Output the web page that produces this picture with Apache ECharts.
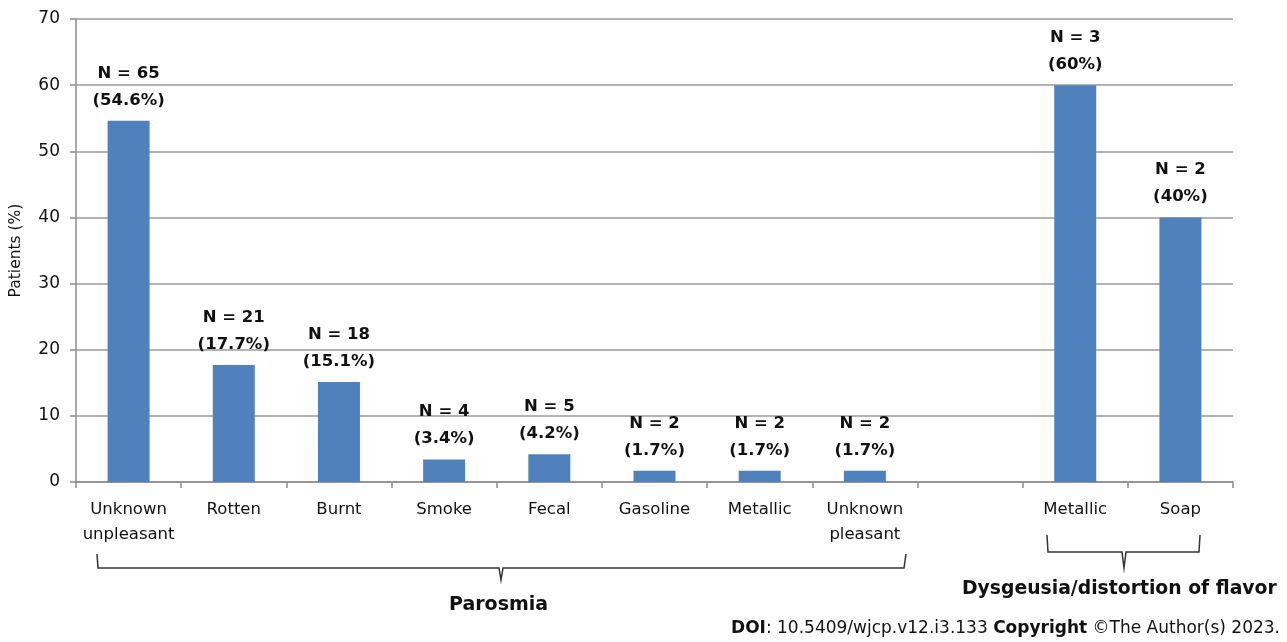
<!DOCTYPE html>
<html>
<head>
<meta charset="utf-8">
<script src="https://cdn.jsdelivr.net/npm/echarts@6/dist/echarts.min.js"></script>
<style>
  html, body { margin: 0; padding: 0; background: #fff; }
  #main { width: 1287px; height: 642px; }
</style>
</head>
<body>
<div id="main"></div>
<script>
// data
var categories = ['Unknown\nunpleasant', 'Rotten', 'Burnt', 'Smoke', 'Fecal', 'Gasoline', 'Metallic', 'Unknown\npleasant', '', 'Metallic', 'Soap'];
var values = [54.6, 17.7, 15.1, 3.4, 4.2, 1.7, 1.7, 1.7, null, 60, 40];
var counts = [65, 21, 18, 4, 5, 2, 2, 2, null, 3, 2];
var pctText = ['54.6', '17.7', '15.1', '3.4', '4.2', '1.7', '1.7', '1.7', '', '60', '40'];
var yTicks = [0, 10, 20, 30, 40, 50, 60, 70];

var font = 'DejaVu Sans';
var chart = echarts.init(document.getElementById('main'));

var option = {
  animation: false,
  textStyle: { fontFamily: font },
  grid: { left: 76, right: 54, top: 19, bottom: 160 },
  xAxis: {
    type: 'category',
    data: categories,
    axisLine: { lineStyle: { color: '#8c8c8c', width: 1.5 } },
    axisTick: { show: true, length: 6, lineStyle: { color: '#8c8c8c', width: 1.5 } },
    axisLabel: { color: '#111', fontSize: 16.5, lineHeight: 25, margin: 15, interval: 0 }
  },
  yAxis: {
    type: 'value',
    min: yTicks[0],
    max: yTicks[yTicks.length - 1],
    interval: 10,
    name: 'Patients (%)',
    nameLocation: 'middle',
    nameGap: 52,
    nameRotate: 90,
    nameTextStyle: { color: '#111', fontSize: 15.5 },
    axisLine: { show: true, lineStyle: { color: '#8c8c8c', width: 1.5 } },
    axisTick: { show: true, length: 6, lineStyle: { color: '#8c8c8c', width: 1.5 } },
    axisLabel: { color: '#111', fontSize: 17, margin: 16 },
    splitLine: { lineStyle: { color: '#9a9a9a', width: 1.5 } }
  },
  series: [{
    type: 'bar',
    data: values,
    barWidth: 42,
    itemStyle: { color: '#4f81bd' },
    label: {
      show: true,
      position: 'top',
      distance: 7,
      color: '#111',
      fontWeight: 'bold',
      fontSize: 16.5,
      lineHeight: 27,
      formatter: function (p) {
        return 'N = ' + counts[p.dataIndex] + '\n(' + pctText[p.dataIndex] + '%)';
      }
    }
  }],
  graphic: [
    // Parosmia bracket
    {
      type: 'polyline',
      shape: { points: [[97, 554], [98, 568], [499, 568], [501, 580], [503, 568], [904, 568], [906, 554]] },
      style: { stroke: '#333', lineWidth: 1.5, fill: null }
    },
    {
      type: 'text', left: 449, top: 596,
      style: { text: 'Parosmia', font: 'bold 19px "DejaVu Sans"', fill: '#111' }
    },
    // Dysgeusia bracket
    {
      type: 'polyline',
      shape: { points: [[1047, 535], [1048, 552], [1122, 552], [1124, 568], [1126, 552], [1199, 552], [1200, 535]] },
      style: { stroke: '#333', lineWidth: 1.5, fill: null }
    },
    {
      type: 'text', left: 962, top: 580,
      style: { text: 'Dysgeusia/distortion of flavor', font: 'bold 18.8px "DejaVu Sans"', fill: '#111' }
    },
    {
      type: 'text', right: 7, top: 620,
      style: {
        text: '{b|DOI}: 10.5409/wjcp.v12.i3.133 {b|Copyright} ©The Author(s) 2023.',
        font: '17px "DejaVu Sans"',
        fill: '#111',
        rich: { b: { fontWeight: 'bold', fontSize: 17, fontFamily: font } }
      }
    }
  ]
};

chart.setOption(option);
</script>
</body>
</html>
